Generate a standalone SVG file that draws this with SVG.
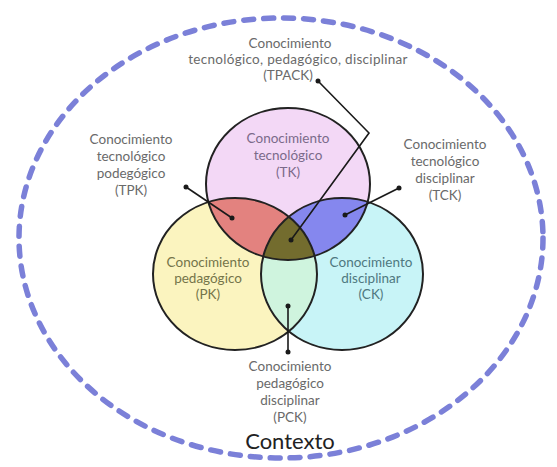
<svg xmlns="http://www.w3.org/2000/svg" width="557" height="467" viewBox="0 0 557 467">
<style>
text{font-family:Lato,"Open Sans","Liberation Sans",sans-serif;font-size:13.5px;text-anchor:middle;fill:#6a6a6a}
.tk{fill:#7b6a8a}.pk{fill:#75754a}.ck{fill:#4f7880}
.ctx{font-size:22px;fill:#222}
.edge{fill:none;stroke:#222;stroke-width:2}
.con{fill:none;stroke:#1a1a1a;stroke-width:1.6}
.dot{fill:#1a1a1a}
</style>
<defs>
<clipPath id="cTK"><ellipse cx="288" cy="184" rx="82" ry="76"/></clipPath>
<clipPath id="cPK"><ellipse cx="235" cy="274" rx="82" ry="76"/></clipPath>
</defs>
<rect width="557" height="467" fill="#ffffff"/>
<g id="contexto">
<ellipse cx="281" cy="238" rx="262" ry="220" fill="none" stroke="#7b80d8" stroke-width="5.5" stroke-dasharray="10 10" stroke-linecap="round"/>
<text class="ctx" x="290" y="449">Contexto</text>
</g>
<g id="fills">
<ellipse cx="288" cy="184" rx="82" ry="76" fill="#f3d8f6"/>
<ellipse cx="235" cy="274" rx="82" ry="76" fill="#fbf4bf"/>
<ellipse cx="342" cy="274" rx="81" ry="76" fill="#c8f4f7"/>
<ellipse cx="235" cy="274" rx="82" ry="76" fill="#e3827f" clip-path="url(#cTK)"/>
<ellipse cx="342" cy="274" rx="81" ry="76" fill="#8587ee" clip-path="url(#cTK)"/>
<ellipse cx="342" cy="274" rx="81" ry="76" fill="#cff4de" clip-path="url(#cPK)"/>
<g clip-path="url(#cTK)"><ellipse cx="342" cy="274" rx="81" ry="76" fill="#736c2e" clip-path="url(#cPK)"/></g>
</g>
<g id="TK">
<ellipse class="edge" cx="288" cy="184" rx="82" ry="76"/>
<text class="tk" x="288" y="143">Conocimiento</text>
<text class="tk" x="288" y="160">tecnológico</text>
<text class="tk" x="288" y="177">(TK)</text>
</g>
<g id="PK">
<ellipse class="edge" cx="235" cy="274" rx="82" ry="76"/>
<text class="pk" x="208" y="267">Conocimiento</text>
<text class="pk" x="208" y="283">pedagógico</text>
<text class="pk" x="208" y="299">(PK)</text>
</g>
<g id="CK">
<ellipse class="edge" cx="342" cy="274" rx="81" ry="76"/>
<text class="ck" x="371" y="267">Conocimiento</text>
<text class="ck" x="371" y="283">disciplinar</text>
<text class="ck" x="371" y="299">(CK)</text>
</g>
<g id="TPACK">
<text x="290" y="48">Conocimiento</text>
<text x="298" y="64" letter-spacing="0.3">tecnológico, pedagógico, disciplinar</text>
<text x="288" y="80">(TPACK)</text>
</g>
<g id="TPK">
<text x="131" y="144">Conocimiento</text>
<text x="131" y="161">tecnológico</text>
<text x="131" y="178">podegógico</text>
<text x="131" y="195">(TPK)</text>
</g>
<g id="TCK">
<text x="445" y="149">Conocimiento</text>
<text x="445" y="166">tecnológico</text>
<text x="445" y="183">disciplinar</text>
<text x="445" y="200">(TCK)</text>
</g>
<g id="PCK">
<text x="290" y="371">Conocimiento</text>
<text x="290" y="388">pedagógico</text>
<text x="290" y="405">disciplinar</text>
<text x="290" y="422">(PCK)</text>
</g>
<g id="connectors">
<polyline class="con" points="318,81 369,133 291,240"/>
<circle class="dot" cx="318" cy="81" r="2.5"/><circle class="dot" cx="291" cy="240" r="2.5"/>
<line class="con" x1="186" y1="187" x2="232" y2="218"/>
<circle class="dot" cx="186" cy="187" r="2.5"/><circle class="dot" cx="232" cy="218" r="2.5"/>
<line class="con" x1="399" y1="188" x2="345" y2="215"/>
<circle class="dot" cx="399" cy="188" r="2.5"/><circle class="dot" cx="345" cy="215" r="2.5"/>
<line class="con" x1="288" y1="306" x2="288" y2="352"/>
<circle class="dot" cx="288" cy="306" r="2.5"/><circle class="dot" cx="288" cy="352" r="2.5"/>
</g>
</svg>
